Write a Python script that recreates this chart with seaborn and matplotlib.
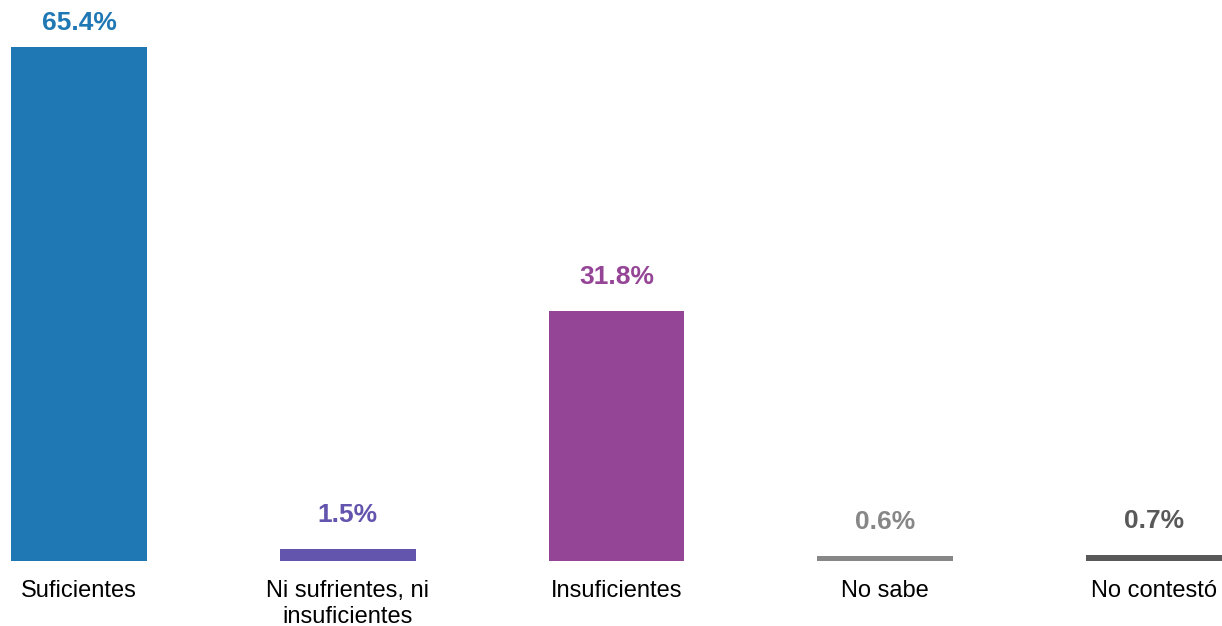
import matplotlib
matplotlib.use("Agg")
import matplotlib.pyplot as plt
import seaborn as sns
import pandas as pd

categories = ["Suficientes", "Ni sufrientes, ni\ninsuficientes", "Insuficientes", "No sabe", "No contestó"]
values = [65.4, 1.5, 31.8, 0.6, 0.7]
colors = ["#1f77b4", "#6354ad", "#954596", "#878787", "#595959"]

df = pd.DataFrame({"cat": categories, "val": values})

sns.set_theme(style="white")
plt.rcParams["font.family"] = ["Liberation Sans", "DejaVu Sans"]

fig = plt.figure(figsize=(12.22, 6.26), dpi=100)
ax = fig.add_axes([11 / 1222, 65 / 626, 1211 / 1222, 514 / 626])

sns.barplot(data=df, x="cat", y="val", hue="cat", palette=colors, legend=False,
            width=0.505, saturation=1, linewidth=0, ax=ax)

ax.set_xlim(-0.253, 4.253)
ax.set_ylim(0, 65.4)

for i, (v, c) in enumerate(zip(values, colors)):
    # top label sits a bit closer to its bar so it fits in the figure
    off = 9 if v == max(values) else 16
    ax.annotate(f"{v}%", xy=(i, v), xytext=(0, off), textcoords="offset points",
                ha="center", va="bottom", fontsize=19, fontweight="bold", color=c,
                annotation_clip=False)

ax.set_xlabel("")
ax.set_ylabel("")
ax.set_yticks([])
ax.tick_params(axis="x", length=0, pad=14, labelsize=17, labelcolor="black")
for s in ax.spines.values():
    s.set_visible(False)

fig.savefig("out.png", dpi=100)
